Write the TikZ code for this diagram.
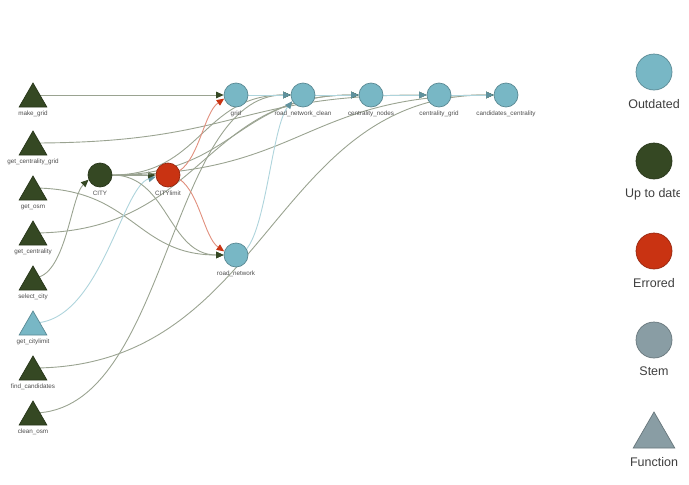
\documentclass[tikz,border=0pt]{standalone}
\usepackage{fontspec}
\setmainfont{Liberation Sans}
\usepackage{xcolor}
\definecolor{outdated}{HTML}{78B7C5}
\definecolor{uptodate}{HTML}{354823}
\definecolor{errored}{HTML}{C93312}
\definecolor{stem}{HTML}{899DA4}
\definecolor{labeltext}{HTML}{4D4D4D}
\usepackage{tikz}
\usetikzlibrary{arrows.meta,shapes.geometric,backgrounds}
\tikzset{
  target/.style ={circle,minimum size=24pt,inner sep=0pt,line width=0.7pt},
  func/.style   ={regular polygon,regular polygon sides=3,minimum size=32pt,
                  inner sep=0pt,line width=0.7pt},
  outnode/.style={target,fill=outdated,draw=outdated!75!black},
  upnode/.style ={target,fill=uptodate,draw=uptodate!75!black},
  errnode/.style={target,fill=errored,draw=errored!75!black},
  stemnode/.style={target,fill=stem,draw=stem!75!black},
  upfunc/.style ={func,fill=uptodate,draw=uptodate!75!black},
  outfunc/.style={func,fill=outdated,draw=outdated!75!black},
  stemfunc/.style={func,fill=stem,draw=stem!75!black},
  lbl/.style    ={font=\fontsize{6.3}{7}\selectfont,text=labeltext,inner sep=0.5pt,
                  yshift=-3pt},
  lgd/.style    ={font=\fontsize{12.5}{14}\selectfont,text=labeltext!80!black,inner sep=0pt,
                  yshift=-8.5pt},
  upedge/.style ={draw=uptodate!50!white,line width=0.9pt,
                  -{Triangle[length=7.5pt,width=6.5pt,color=uptodate]}},
  outedge/.style={draw=outdated!60!white,line width=0.9pt,
                  -{Triangle[length=7.5pt,width=6.5pt,color=outdated!80!black]}},
  erredge/.style={draw=errored!55!white,line width=0.9pt,
                  -{Triangle[length=7.5pt,width=6.5pt,color=errored]}},
}
% edges leave a triangle a little above its centroid
\newcommand{\fn}[1]{([yshift=4pt]#1.center)}

\begin{document}
\begin{tikzpicture}[x=1pt,y=1pt]
\useasboundingbox (0,0) rectangle (689,-485);
% functions
\node[upfunc,label={[lbl]below:make\_grid}] (make_grid) at (33,-99) {};
\node[upfunc,label={[lbl]below:get\_centrality\_grid}] (get_centrality_grid) at (33,-147) {};
\node[upfunc,label={[lbl]below:get\_osm}] (get_osm) at (33,-192) {};
\node[upfunc,label={[lbl]below:get\_centrality}] (get_centrality) at (33,-237) {};
\node[upfunc,label={[lbl]below:select\_city}] (select_city) at (33,-282) {};
\node[outfunc,label={[lbl]below:get\_citylimit}] (get_citylimit) at (33,-327) {};
\node[upfunc,label={[lbl]below:find\_candidates}] (find_candidates) at (33,-372) {};
\node[upfunc,label={[lbl]below:clean\_osm}] (clean_osm) at (33,-417) {};
% targets
\node[upnode,label={[lbl]below:CITY}] (city) at (100,-175) {};
\node[errnode,label={[lbl]below:CITYlimit}] (citylimit) at (168,-175) {};
\node[outnode,label={[lbl]below:grid}] (grid) at (236,-95) {};
\node[outnode,label={[lbl]below:road\_network\_clean}] (road_network_clean) at (303,-95) {};
\node[outnode,label={[lbl]below:centrality\_nodes}] (centrality_nodes) at (371,-95) {};
\node[outnode,label={[lbl]below:centrality\_grid}] (centrality_grid) at (439,-95) {};
\node[outnode,label={[lbl]below:candidates\_centrality}] (candidates_centrality) at (506,-95) {};
\node[outnode,label={[lbl]below:road\_network}] (road_network) at (236,-255) {};
% edges
\begin{scope}[on background layer]
\draw[upedge] \fn{make_grid} -- (grid);
\draw[upedge] \fn{get_centrality_grid} .. controls +(203,0) and +(-203,0) .. (centrality_grid);
\draw[upedge] \fn{get_osm} .. controls +(101,0) and +(-101,0) .. (road_network);
\draw[upedge] \fn{get_centrality} .. controls +(169,0) and +(-169,0) .. (centrality_nodes);
\draw[upedge] \fn{select_city} .. controls +(33,0) and +(-18,-17) .. (city.202);
\draw[outedge] \fn{get_citylimit} .. controls +(67,0) and +(-34,-10) .. (citylimit.188);
\draw[upedge] \fn{find_candidates} .. controls +(236,0) and +(-236,0) .. (candidates_centrality);
\draw[upedge] \fn{clean_osm} .. controls +(135,0) and +(-135,0) .. (road_network_clean);
\draw[upedge] (city) -- (citylimit);
\draw[upedge] (city) .. controls +(68,0) and +(-68,0) .. (road_network);
\draw[upedge] (city) .. controls +(101,0) and +(-101,0) .. (road_network_clean);
\draw[upedge] (city) .. controls +(135,0) and +(-135,0) .. (centrality_nodes);
\draw[upedge] (city) .. controls +(203,0) and +(-203,0) .. (candidates_centrality);
\draw[erredge] (citylimit.20) .. controls +(20,14) and +(-20,-14) .. (grid.197);
\draw[erredge] (citylimit.-20) .. controls +(20,-14) and +(-20,14) .. (road_network.163);
\draw[outedge] (grid) -- (road_network_clean);
\draw[outedge] (road_network.30) .. controls +(20,25) and +(-20,-25) .. (road_network_clean.210);
\draw[outedge] (road_network_clean) -- (centrality_nodes);
\draw[outedge] (centrality_nodes) -- (centrality_grid);
\draw[outedge] (centrality_grid) -- (candidates_centrality);
\end{scope}
% legend
\begin{scope}
\clip (0,0) rectangle (679,-485);
\node[outnode,minimum size=36pt,label={[lgd]below:Outdated}] (lg_outdated) at (654,-72) {};
\node[upnode,minimum size=36pt,label={[lgd]below:Up to date}] (lg_uptodate) at (654,-161) {};
\node[errnode,minimum size=36pt,label={[lgd]below:Errored}] (lg_errored) at (654,-251) {};
\node[stemnode,minimum size=36pt,label={[lgd]below:Stem}] (lg_stem) at (654,-340) {};
\node[stemfunc,minimum size=48pt,label={[lgd]below:Function}] (lg_function) at (654,-436) {};
\end{scope}
\end{tikzpicture}
\end{document}
